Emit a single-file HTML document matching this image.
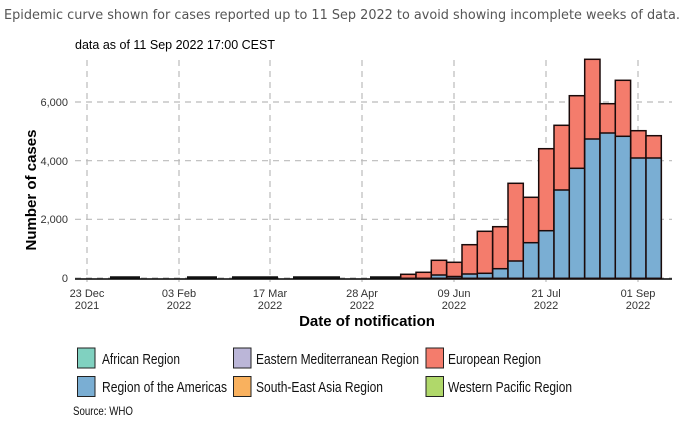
<!DOCTYPE html>
<html><head><meta charset="utf-8"><style>
body{margin:0;background:#fff;width:700px;height:425px;overflow:hidden}
svg{font-family:"Liberation Sans",sans-serif}
</style></head><body>
<svg width="700" height="425" viewBox="0 0 700 425">
<text x="4" y="19" font-size="13.5" fill="#555" font-family="DejaVu Sans, sans-serif" textLength="676" lengthAdjust="spacingAndGlyphs">Epidemic curve shown for cases reported up to 11 Sep 2022 to avoid showing incomplete weeks of data.</text>
<text x="75" y="49" font-size="13" fill="#000" textLength="200" lengthAdjust="spacingAndGlyphs">data as of 11 Sep 2022 17:00 CEST</text>
<g stroke="#bbb" stroke-dasharray="6,5" stroke-width="1.2">
<line x1="75" x2="672" y1="278" y2="278"/>
<line x1="75" x2="672" y1="219.3" y2="219.3"/>
<line x1="75" x2="672" y1="160.7" y2="160.7"/>
<line x1="75" x2="672" y1="102" y2="102"/>
<line x1="87" x2="87" y1="60" y2="282"/>
<line x1="179" x2="179" y1="60" y2="282"/>
<line x1="270" x2="270" y1="60" y2="282"/>
<line x1="362" x2="362" y1="60" y2="282"/>
<line x1="454" x2="454" y1="60" y2="282"/>
<line x1="546" x2="546" y1="60" y2="282"/>
<line x1="638" x2="638" y1="60" y2="282"/>
</g>
<g font-size="11" fill="#333" text-anchor="end">
<text x="68" y="282">0</text><text x="68" y="223">2,000</text><text x="68" y="165">4,000</text><text x="68" y="106">6,000</text>
</g>
<g font-size="11" fill="#333" text-anchor="middle">
<text x="87" y="297">23 Dec</text><text x="87" y="309">2021</text>
<text x="179" y="297">03 Feb</text><text x="179" y="309">2022</text>
<text x="270" y="297">17 Mar</text><text x="270" y="309">2022</text>
<text x="362" y="297">28 Apr</text><text x="362" y="309">2022</text>
<text x="454" y="297">09 Jun</text><text x="454" y="309">2022</text>
<text x="546" y="297">21 Jul</text><text x="546" y="309">2022</text>
<text x="638" y="297">01 Sep</text><text x="638" y="309">2022</text>
</g>
<text x="367" y="326" font-size="15" font-weight="bold" text-anchor="middle">Date of notification</text>
<text transform="translate(36,190) rotate(-90)" font-size="15" font-weight="bold" text-anchor="middle">Number of cases</text>
<line x1="75" x2="672" y1="279" y2="279" stroke="#000" stroke-width="1.5"/>
<g stroke="#111" stroke-width="2.5">
<line x1="110" x2="140" y1="277.5" y2="277.5"/><line x1="187" x2="217" y1="277.5" y2="277.5"/>
<line x1="232" x2="278" y1="277.5" y2="277.5"/><line x1="293" x2="340" y1="277.5" y2="277.5"/>
<line x1="370" x2="400" y1="277.5" y2="277.5"/>
</g>
<g stroke="#1a0a0a" stroke-width="1.5">
<rect x="400.7" y="274.3" width="15.3" height="4" fill="#f47c6c"/>
<rect x="416" y="272.3" width="15.3" height="6" fill="#f47c6c"/>
<rect x="431.3" y="260.3" width="15.3" height="18" fill="#f47c6c"/>
<rect x="446.7" y="262.3" width="15.3" height="16" fill="#f47c6c"/>
<rect x="462" y="244.7" width="15.3" height="33.6" fill="#f47c6c"/>
<rect x="477.3" y="231.3" width="15.3" height="47" fill="#f47c6c"/>
<rect x="492.7" y="226.7" width="15.3" height="51.6" fill="#f47c6c"/>
<rect x="508" y="183.3" width="15.3" height="95" fill="#f47c6c"/>
<rect x="523.3" y="197.3" width="15.3" height="81" fill="#f47c6c"/>
<rect x="538.7" y="148.7" width="15.3" height="129.6" fill="#f47c6c"/>
<rect x="554" y="125.3" width="15.3" height="153" fill="#f47c6c"/>
<rect x="569.3" y="95.7" width="15.3" height="182.6" fill="#f47c6c"/>
<rect x="584.7" y="59.3" width="15.3" height="219" fill="#f47c6c"/>
<rect x="600" y="103.7" width="15.3" height="174.6" fill="#f47c6c"/>
<rect x="615.3" y="80.3" width="15.3" height="198" fill="#f47c6c"/>
<rect x="630.7" y="130.7" width="15.3" height="147.6" fill="#f47c6c"/>
<rect x="646" y="135.7" width="15.3" height="142.6" fill="#f47c6c"/>
<rect x="431.3" y="275" width="15.3" height="3.3" fill="#7aaed3"/>
<rect x="446.7" y="276.5" width="15.3" height="1.8" fill="#7aaed3"/>
<rect x="462" y="274" width="15.3" height="4.3" fill="#7aaed3"/>
<rect x="477.3" y="273.3" width="15.3" height="5" fill="#7aaed3"/>
<rect x="492.7" y="268.7" width="15.3" height="9.6" fill="#7aaed3"/>
<rect x="508" y="261" width="15.3" height="17.3" fill="#7aaed3"/>
<rect x="523.3" y="242.7" width="15.3" height="35.6" fill="#7aaed3"/>
<rect x="538.7" y="230.7" width="15.3" height="47.6" fill="#7aaed3"/>
<rect x="554" y="190" width="15.3" height="88.3" fill="#7aaed3"/>
<rect x="569.3" y="168.3" width="15.3" height="110" fill="#7aaed3"/>
<rect x="584.7" y="139" width="15.3" height="139.3" fill="#7aaed3"/>
<rect x="600" y="133" width="15.3" height="145.3" fill="#7aaed3"/>
<rect x="615.3" y="136.3" width="15.3" height="142" fill="#7aaed3"/>
<rect x="630.7" y="158" width="15.3" height="120.3" fill="#7aaed3"/>
<rect x="646" y="158" width="15.3" height="120.3" fill="#7aaed3"/>
</g>
<g stroke="#222" stroke-width="1">
<rect x="77.5" y="348" width="17.5" height="20" fill="#80d1c0"/>
<rect x="77.5" y="376.5" width="17.5" height="20" fill="#7aaed3"/>
<rect x="233.5" y="348" width="17.5" height="20" fill="#bbb6d8"/>
<rect x="233.5" y="376.5" width="17.5" height="20" fill="#f9b15e"/>
<rect x="426" y="348" width="17.5" height="20" fill="#f47c6c"/>
<rect x="426" y="376.5" width="17.5" height="20" fill="#b0d86a"/>
</g>
<g font-size="15" fill="#111" lengthAdjust="spacingAndGlyphs">
<text x="102" y="364" textLength="78" lengthAdjust="spacingAndGlyphs">African Region</text>
<text x="102" y="392" textLength="125" lengthAdjust="spacingAndGlyphs">Region of the Americas</text>
<text x="256" y="364" textLength="163" lengthAdjust="spacingAndGlyphs">Eastern Mediterranean Region</text>
<text x="256" y="392" textLength="127" lengthAdjust="spacingAndGlyphs">South-East Asia Region</text>
<text x="448" y="364" textLength="93" lengthAdjust="spacingAndGlyphs">European Region</text>
<text x="448" y="392" textLength="124" lengthAdjust="spacingAndGlyphs">Western Pacific Region</text>
</g>
<text x="73" y="415" font-size="12" fill="#111" textLength="60" lengthAdjust="spacingAndGlyphs">Source: WHO</text>
</svg>
</body></html>
